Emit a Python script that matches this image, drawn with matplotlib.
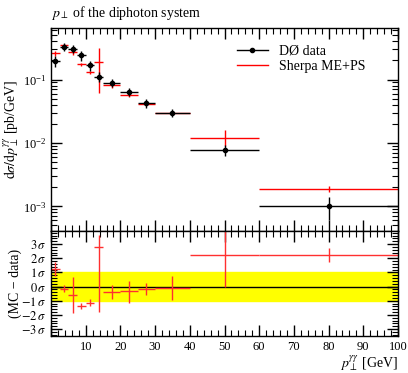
import numpy as np
import matplotlib
matplotlib.use("Agg")
import matplotlib.pyplot as plt
from matplotlib.ticker import MultipleLocator, LogLocator, NullFormatter, FuncFormatter

plt.rcParams['font.family'] = ['Liberation Serif', 'DejaVu Serif']
plt.rcParams['mathtext.fontset'] = 'stix'

# bin edges of the pT measurement
edges = np.array([0, 2.5, 5, 7.5, 10, 12.5, 15, 20, 25, 30, 40, 60, 100])

# D0 data
data_y = [0.195, 0.329, 0.305, 0.240, 0.167, 0.111, 0.089, 0.0636, 0.0422, 0.030, 0.0078, 0.0010]
data_err = [0.20, 0.14, 0.14, 0.17, 0.17, 0.19, 0.15, 0.15, 0.15, 0.15, 0.20, 0.40]  # relative

# Sherpa ME+PS
mc_y = [0.259, 0.345, 0.274, 0.173, 0.130, 0.188, 0.081, 0.057, 0.041, 0.030, 0.0119, 0.0019]
mc_lo = [0.10, 0.06, 0.10, 0.06, 0.06, 0.67, 0.08, 0.08, 0.08, 0.08, 0.26, 0.10]  # relative
mc_hi = [0.10, 0.06, 0.10, 0.06, 0.06, 0.66, 0.08, 0.08, 0.08, 0.08, 0.35, 0.10]

# (MC - data)/sigma
dev = [1.22, -0.16, -0.6, -1.39, -1.13, 2.77, -0.39, -0.35, -0.18, -0.09, 2.22, 2.22]
dev_lo = [0.5, 0.25, 1.3, 0.2, 0.25, 4.6, 0.5, 0.8, 0.45, 0.85, 2.22, 0.5]
dev_hi = [0.5, 0.25, 1.3, 0.2, 0.25, 0.9, 0.5, 0.75, 0.45, 0.85, 2.0, 0.5]

centers = 0.5 * (edges[:-1] + edges[1:])
halfw = 0.5 * np.diff(edges)
data_y = np.array(data_y)
data_e = data_y * np.array(data_err)
mc_y = np.array(mc_y)
mc_e = [mc_y * np.array(mc_lo), mc_y * np.array(mc_hi)]

fig = plt.figure(figsize=(4.08, 3.73), dpi=100)
ax = fig.add_axes([0.125, 0.381, 0.8505, 0.544])
rax = fig.add_axes([0.125, 0.099, 0.8505, 0.282])

ax.errorbar(centers, mc_y, xerr=halfw, yerr=mc_e, fmt='none',
            ecolor='red', elinewidth=1.0, capsize=0)
ax.errorbar(centers, data_y, xerr=halfw, yerr=data_e, fmt='o', color='black',
            ms=3, elinewidth=1.0, capsize=0)
ax.plot([], [], color='black', marker='o', ms=3, lw=1.0, label='DØ data')
ax.plot([], [], color='red', lw=1.0, label='Sherpa ME+PS')
ax.legend(loc='upper left', bbox_to_anchor=(0.5, 0.98), frameon=False,
          fontsize=10, handlelength=2.2, labelspacing=0.15)

ax.set_yscale('log')
ax.set_xlim(0, 100)
ax.set_ylim(4.1e-4, 0.65)
ax.yaxis.set_major_locator(LogLocator(base=10, numticks=10))
ax.yaxis.set_minor_locator(LogLocator(base=10, subs=np.arange(2, 10), numticks=10))
ax.yaxis.set_minor_formatter(NullFormatter())
ax.xaxis.set_major_locator(MultipleLocator(10))
ax.xaxis.set_minor_locator(MultipleLocator(2))
ax.tick_params(labelbottom=False)
ax.set_ylabel(r'$\mathrm{d}\sigma/\mathrm{d}p_\perp^{\gamma\gamma}$ [pb/GeV]', fontsize=10)
ax.set_title(r'$p_\perp$ of the diphoton system', loc='left', fontsize=10, pad=8)

rax.axhspan(-1, 1, color='yellow', zorder=0)
rax.axhline(0, color='black', lw=1.0, zorder=1)
rax.errorbar(centers, dev, xerr=halfw, yerr=[dev_lo, dev_hi], fmt='none',
             ecolor='#ff3030', elinewidth=1.0, capsize=0, zorder=2)
rax.set_xlim(0, 100)
rax.set_ylim(-3.5, 3.93)
rax.yaxis.set_major_locator(MultipleLocator(1))
rax.yaxis.set_minor_locator(MultipleLocator(0.2))
rax.yaxis.set_major_formatter(FuncFormatter(lambda v, p: r'$%d\,\sigma$' % round(v)))
rax.xaxis.set_major_locator(MultipleLocator(10))
rax.xaxis.set_minor_locator(MultipleLocator(2))
rax.xaxis.set_major_formatter(FuncFormatter(lambda v, p: '' if v == 0 else '%d' % v))
rax.set_ylabel('(MC − data)', fontsize=10)
rax.set_xlabel(r'$p_\perp^{\gamma\gamma}$ [GeV]', fontsize=10, loc='right', labelpad=0)

for a in (ax, rax):
    a.tick_params(which='both', direction='in', top=True, right=True, labelsize=9)
    a.tick_params(which='major', length=8, width=1.0)
    a.tick_params(which='minor', length=4, width=0.8)
    for s in a.spines.values():
        s.set_linewidth(1.0)

ax.yaxis.set_label_coords(-0.085, 0.5)
rax.yaxis.set_label_coords(-0.085, 0.5)
fig.savefig('out.png', dpi=100)
